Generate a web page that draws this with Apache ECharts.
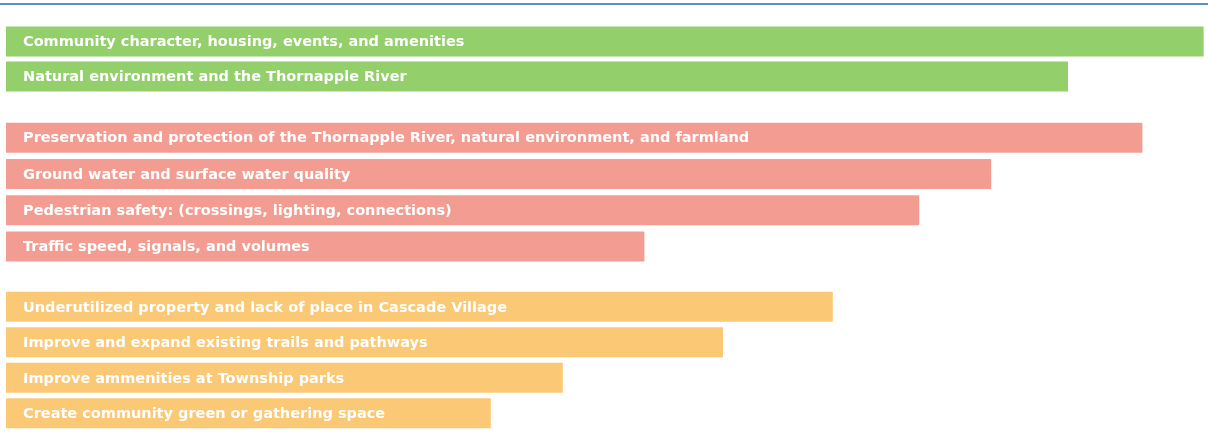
<!DOCTYPE html>
<html>
<head>
<meta charset="utf-8">
<script src="https://cdn.jsdelivr.net/npm/echarts@6/dist/echarts.min.js"></script>
<style>
html,body{margin:0;padding:0;background:#fff;}
#main{width:1208px;height:433px;}
</style>
</head>
<body>
<div id="main"></div>
<script>
// Group 1 (green)
const greenCategories = [
  'Community character, housing, events, and amenities',
  'Natural environment and the Thornapple River'
];
const greenValues = [99.8, 88.5];

// Group 2 (red)
const redCategories = [
  'Preservation and protection of the Thornapple River, natural environment, and farmland',
  'Ground water and surface water quality',
  'Pedestrian safety: (crossings, lighting, connections)',
  'Traffic speed, signals, and volumes'
];
const redValues = [94.7, 82.1, 76.1, 53.2];

// Group 3 (orange)
const orangeCategories = [
  'Underutilized property and lack of place in Cascade Village',
  'Improve and expand existing trails and pathways',
  'Improve ammenities at Township parks',
  'Create community green or gathering space'
];
const orangeValues = [68.9, 59.75, 46.4, 40.4];

const valueMax = 100;

const groups = [
  {cats: greenCategories, vals: greenValues, color: '#93cf6b', top: 24, height: 70},
  {cats: redCategories, vals: redValues, color: '#f39d92', top: 119.5, height: 145},
  {cats: orangeCategories, vals: orangeValues, color: '#fbc875', top: 289, height: 142}
];

const chart = echarts.init(document.getElementById('main'), null, {renderer: 'canvas'});
const option = {
  animation: false,
  backgroundColor: '#ffffff',
  grid: groups.map(g => ({left: 6, width: 1200, top: g.top, height: g.height})),
  xAxis: groups.map((g, i) => ({
    type: 'value', gridIndex: i, min: 0, max: valueMax, show: false
  })),
  yAxis: groups.map((g, i) => ({
    type: 'category', gridIndex: i, data: g.cats, inverse: true, show: false
  })),
  series: groups.map((g, i) => ({
    type: 'bar',
    xAxisIndex: i,
    yAxisIndex: i,
    data: g.vals,
    barWidth: 30,
    itemStyle: {color: g.color},
    label: {
      show: true,
      position: 'insideLeft',
      distance: 17,
      offset: [0, 1],
      formatter: '{b}',
      color: '#ffffff',
      fontFamily: 'DejaVu Sans, sans-serif',
      fontWeight: 'bold',
      fontSize: 14.5
    }
  })),
  graphic: [{
    type: 'line',
    shape: {x1: 0, y1: 4, x2: 1208, y2: 4},
    style: {stroke: '#5b8dcc', lineWidth: 2}
  }]
};
chart.setOption(option);
</script>
</body>
</html>
